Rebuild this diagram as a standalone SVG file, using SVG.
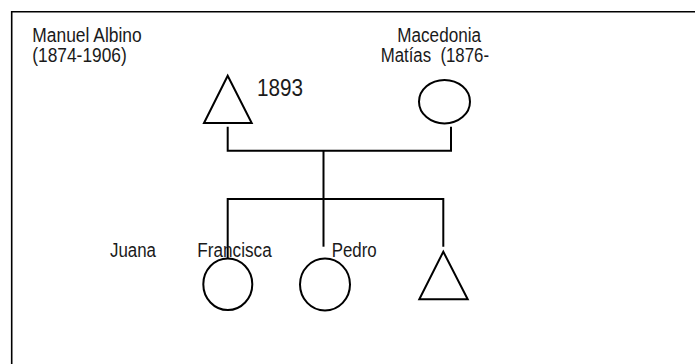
<svg xmlns="http://www.w3.org/2000/svg" width="695" height="364" viewBox="0 0 695 364">
<style>
  .t { font-family: "Liberation Sans Narrow", "Liberation Sans", Arial, sans-serif; font-size: 19.5px; fill: #1a1a1a; }
  .big { font-size: 23px; }
  .shape { fill: #ffffff; stroke: #000000; stroke-width: 2; }
  .line { fill: none; stroke: #000000; stroke-width: 2; }
  .frame { fill: none; stroke: #000000; stroke-width: 1.6; }
</style>
<rect width="695" height="364" fill="#ffffff"/>
<path class="frame" d="M11.7,364 V11.7 H695"/>
<g id="connectors">
  <path class="line" d="M227.7,126.7 V150.7 H451 V126.7"/>
  <path class="line" d="M323.5,150.7 V246.7"/>
  <path class="line" d="M227.7,258.3 V199 H443.3 V246.7"/>
</g>
<g id="manuel">
  <polygon class="shape" points="227.7,75.7 204,123 251.7,123"/>
  <text class="t" x="32.3" y="41.5" textLength="109.4" lengthAdjust="spacingAndGlyphs">Manuel Albino</text>
  <text class="t" x="32.3" y="62" textLength="94.4" lengthAdjust="spacingAndGlyphs">(1874-1906)</text>
  <text class="t big" x="257" y="96.3" textLength="46" lengthAdjust="spacingAndGlyphs">1893</text>
</g>
<g id="macedonia">
  <ellipse class="shape" cx="444.5" cy="101.7" rx="25.5" ry="21.7"/>
  <text class="t" x="397.3" y="41.5" textLength="83.7" lengthAdjust="spacingAndGlyphs">Macedonia</text>
  <text class="t" x="380.7" y="62.3" textLength="108.3" lengthAdjust="spacingAndGlyphs" xml:space="preserve" style="white-space:pre">Matías  (1876-</text>
</g>
<g id="juana">
  <text class="t" x="110" y="256.7" textLength="46" lengthAdjust="spacingAndGlyphs">Juana</text>
</g>
<g id="francisca">
  <ellipse class="shape" cx="227.8" cy="284.2" rx="24.5" ry="25.8"/>
  <text class="t" x="197.3" y="256.7" textLength="74.4" lengthAdjust="spacingAndGlyphs">Francisca</text>
</g>
<g id="pedro">
  <ellipse class="shape" cx="325" cy="284.5" rx="25" ry="26"/>
  <text class="t" x="331.7" y="256.7" textLength="45" lengthAdjust="spacingAndGlyphs">Pedro</text>
</g>
<g id="son">
  <polygon class="shape" points="443.3,251.7 419.3,299.3 467.7,299.3"/>
</g>
</svg>
